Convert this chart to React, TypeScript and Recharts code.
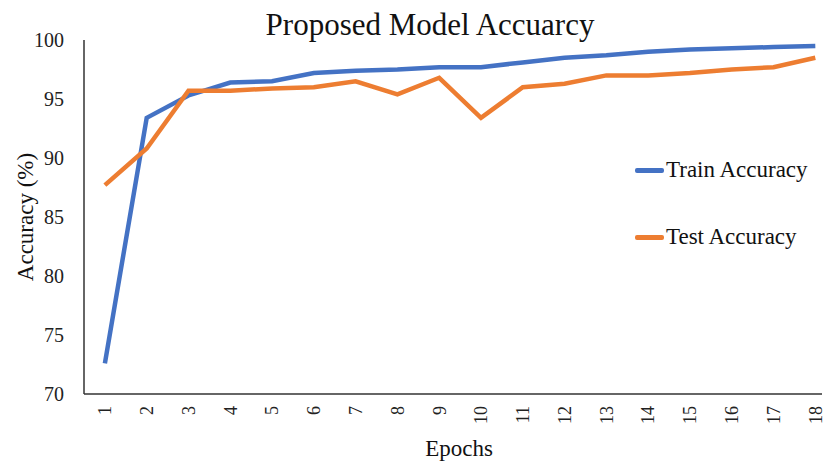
import React from "react";
import { LineChart, Line, XAxis, YAxis, Legend } from "recharts";

const epochs = [1, 2, 3, 4, 5, 6, 7, 8, 9, 10, 11, 12, 13, 14, 15, 16, 17, 18];
const trainAccuracy = [72.6, 93.4, 95.3, 96.4, 96.5, 97.2, 97.4, 97.5, 97.7, 97.7, 98.1, 98.5, 98.7, 99.0, 99.2, 99.3, 99.4, 99.5];
const testAccuracy = [87.7, 90.8, 95.7, 95.7, 95.9, 96.0, 96.5, 95.4, 96.8, 93.4, 96.0, 96.3, 97.0, 97.0, 97.2, 97.5, 97.7, 98.5];
const yTicks = [70, 75, 80, 85, 90, 95, 100];
const seriesNames = ["Train Accuracy", "Test Accuracy"];
const seriesColors = ["#4472C4", "#ED7D31"];
const xTitle = "Epochs";
const yTitle = "Accuracy (%)";

const data = epochs.map((e, i) => ({
  epoch: e,
  train: trainAccuracy[i],
  test: testAccuracy[i],
}));

const FONT = "'Liberation Serif', 'Times New Roman', serif";

const XTick = (props: any) => {
  const { x, y, payload } = props;
  return (
    <text
      x={x}
      y={y}
      transform={`rotate(-90, ${x}, ${y})`}
      textAnchor="end"
      dy="0.35em"
      fontFamily={FONT}
      fontSize={18}
      fill="#222"
    >
      {payload.value}
    </text>
  );
};

const YTick = (props: any) => {
  const { x, y, payload } = props;
  return (
    <text x={x} y={y} textAnchor="end" dy="0.35em" fontFamily={FONT} fontSize={20} fill="#222">
      {payload.value}
    </text>
  );
};

const XLabel = (props: any) => {
  const { viewBox } = props;
  const cx = viewBox.x + viewBox.width / 2;
  return (
    <text x={cx + 6} y={viewBox.y + viewBox.height - 7} textAnchor="middle" fontFamily={FONT} fontSize={23} fill="#111">
      {xTitle}
    </text>
  );
};

const YLabel = (props: any) => {
  const { viewBox } = props;
  const cy = viewBox.y + viewBox.height / 2;
  const cx = 25;
  return (
    <text
      x={cx}
      y={cy}
      transform={`rotate(-90, ${cx}, ${cy})`}
      textAnchor="middle"
      dy="0.35em"
      fontFamily={FONT}
      fontSize={23}
      fill="#111"
    >
      {yTitle}
    </text>
  );
};

const LegendContent = () => (
  <div style={{ fontFamily: FONT, fontSize: 23, color: "#111" }}>
    {seriesNames.map((n, i) => (
      <div key={n} style={{ display: "flex", alignItems: "center", height: 30, marginBottom: i === 0 ? 37 : 0 }}>
        <div style={{ width: 29, height: 5, background: seriesColors[i], borderRadius: 2, marginRight: 2 }} />
        <span>{n}</span>
      </div>
    ))}
  </div>
);

export default function App() {
  return (
    <div style={{ position: "absolute", left: 0, top: 0, width: 824, height: 463, background: "#fff" }}>
      <LineChart width={824} height={463} data={data} margin={{ top: 40, right: 2, bottom: 0, left: 0 }}>
        <text x={430} y={35} textAnchor="middle" fontFamily={FONT} fontSize={31} fill="#111">
          Proposed Model Accuarcy
        </text>
        <XAxis
          dataKey="epoch"
          type="number"
          domain={[0.5, 18.16]}
          ticks={epochs}
          interval={0}
          allowDataOverflow
          height={69}
          tickLine={false}
          axisLine={{ stroke: "#333", strokeWidth: 1.5 }}
          tick={<XTick />}
          tickMargin={6}
          label={<XLabel />}
        />
        <YAxis
          domain={[70, 100]}
          ticks={yTicks}
          width={84}
          tickLine={false}
          axisLine={{ stroke: "#333", strokeWidth: 1.5 }}
          tick={<YTick />}
          tickMargin={14}
          label={<YLabel />}
        />
        <Legend
          layout="vertical"
          verticalAlign="middle"
          align="center"
          wrapperStyle={{ position: "absolute", left: 635, top: 155, width: 190 }}
          content={<LegendContent />}
        />
        <Line
          dataKey="train"
          name={seriesNames[0]}
          stroke={seriesColors[0]}
          strokeWidth={4.5}
          dot={false}
          isAnimationActive={false}
        />
        <Line
          dataKey="test"
          name={seriesNames[1]}
          stroke={seriesColors[1]}
          strokeWidth={4.5}
          dot={false}
          isAnimationActive={false}
        />
      </LineChart>
    </div>
  );
}
